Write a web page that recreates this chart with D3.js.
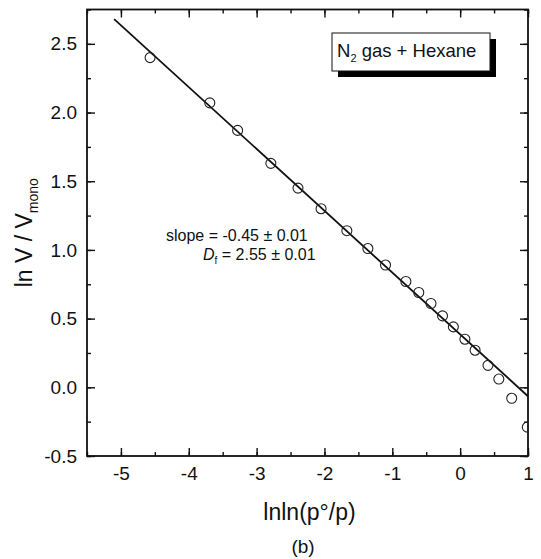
<!DOCTYPE html>
<html>
<head>
<meta charset="utf-8">
<script src="https://cdn.jsdelivr.net/npm/d3@7/dist/d3.min.js"></script>
<style>
  html, body { margin: 0; padding: 0; background: #fff; }
  svg { display: block; font-family: "Liberation Sans", Arial, sans-serif; }
</style>
</head>
<body>
<svg id="chart" width="541" height="559"></svg>
<script>
// Measured adsorption data: lnln(p°/p) vs ln(V/Vmono)
const lnlnP = [-4.57, -3.69, -3.28, -2.79, -2.39, -2.05, -1.67, -1.36, -1.10, -0.80,
               -0.61, -0.43, -0.26, -0.10, 0.07, 0.22, 0.41, 0.57, 0.76, 0.99];
const lnV   = [2.40, 2.07, 1.87, 1.63, 1.45, 1.30, 1.14, 1.01, 0.89, 0.77,
               0.69, 0.61, 0.52, 0.44, 0.35, 0.27, 0.16, 0.06, -0.08, -0.29];

// Linear fit
const fitSlope = -0.45;
const fitIntercept = 0.385;
const fitRange = [-5.1, 1.0];

const xTicks = [-5, -4, -3, -2, -1, 0, 1];
const yTicks = [-0.5, 0.0, 0.5, 1.0, 1.5, 2.0, 2.5];

const svg = d3.select("#chart");
const pL = 87, pR = 528, pT = 9.5, pB = 456;

const x = d3.scaleLinear().domain([-5.5, 1]).range([pL, pR]);
const y = d3.scaleLinear().domain([-0.5, 2.75]).range([pB, pT]);

const xMinor = d3.range(-5.5, 1.01, 0.5);
const yMinor = d3.range(-0.5, 2.751, 0.25);

// plain hyphen-minus for negative tick labels
const fmtX = d => String(d);
const fmtY = d => d.toFixed(1);

function styleAxis(g) {
  g.select(".domain").remove();
  g.selectAll(".tick line").attr("stroke", "#111").attr("stroke-width", 1.4);
  g.selectAll(".tick text").attr("fill", "#111").attr("font-size", 19)
    .attr("font-family", "'Liberation Sans', Arial, sans-serif");
}

// minor ticks (all four sides)
svg.append("g").attr("transform", `translate(0,${pB})`)
  .call(d3.axisBottom(x).tickValues(xMinor).tickSize(-4).tickFormat("")).call(styleAxis);
svg.append("g").attr("transform", `translate(0,${pT})`)
  .call(d3.axisTop(x).tickValues(xMinor).tickSize(-4).tickFormat("")).call(styleAxis);
svg.append("g").attr("transform", `translate(${pL},0)`)
  .call(d3.axisLeft(y).tickValues(yMinor).tickSize(-4).tickFormat("")).call(styleAxis);
svg.append("g").attr("transform", `translate(${pR},0)`)
  .call(d3.axisRight(y).tickValues(yMinor).tickSize(-4).tickFormat("")).call(styleAxis);

// major ticks with labels
svg.append("g").attr("transform", `translate(0,${pB})`)
  .call(d3.axisBottom(x).tickValues(xTicks).tickSize(-8).tickPadding(10.5)
        .tickFormat(fmtX)).call(styleAxis);
svg.append("g").attr("transform", `translate(0,${pT})`)
  .call(d3.axisTop(x).tickValues(xTicks).tickSize(-8).tickFormat("")).call(styleAxis);
svg.append("g").attr("transform", `translate(${pL},0)`)
  .call(d3.axisLeft(y).tickValues(yTicks).tickSize(-8).tickPadding(10)
        .tickFormat(fmtY)).call(styleAxis);
svg.append("g").attr("transform", `translate(${pR},0)`)
  .call(d3.axisRight(y).tickValues(yTicks).tickSize(-8).tickFormat("")).call(styleAxis);

// frame
svg.append("rect")
  .attr("x", pL).attr("y", pT)
  .attr("width", pR - pL).attr("height", pB - pT)
  .attr("fill", "none").attr("stroke", "#111").attr("stroke-width", 1.8);

// clip region for data
svg.append("clipPath").attr("id", "plotClip")
  .append("rect").attr("x", pL).attr("y", pT)
  .attr("width", pR - pL).attr("height", pB - pT);

const plot = svg.append("g").attr("clip-path", "url(#plotClip)");

// fitted line
const line = d3.line().x(d => x(d)).y(d => y(fitIntercept + fitSlope * d));
plot.append("path")
  .attr("d", line(fitRange))
  .attr("fill", "none").attr("stroke", "#111").attr("stroke-width", 1.8);

// data points
plot.selectAll("circle.pt")
  .data(lnlnP.map((v, i) => [v, lnV[i]]))
  .join("circle")
  .attr("class", "pt")
  .attr("cx", d => x(d[0])).attr("cy", d => y(d[1]))
  .attr("r", 5)
  .attr("fill", "none").attr("stroke", "#222").attr("stroke-width", 1.1);

// legend box with shadow
const lg = svg.append("g");
lg.append("rect").attr("x", 338).attr("y", 39).attr("width", 158).attr("height", 38).attr("fill", "#000");
lg.append("rect").attr("x", 332).attr("y", 33).attr("width", 158).attr("height", 38)
  .attr("fill", "#fff").attr("stroke", "#111").attr("stroke-width", 1);
const lt = lg.append("text").attr("x", 337).attr("y", 57).attr("font-size", 18.5).attr("fill", "#111");
lt.append("tspan").text("N");
lt.append("tspan").attr("font-size", 11).attr("dy", 5).text("2");
lt.append("tspan").attr("dy", -5).text(" gas + Hexane");

// fit annotation
svg.append("text").attr("x", 166).attr("y", 241).attr("font-size", 16).attr("fill", "#111")
  .text("slope = -0.45 ± 0.01");
const df = svg.append("text").attr("x", 203).attr("y", 260).attr("font-size", 16).attr("fill", "#111");
df.append("tspan").attr("font-style", "italic").text("D");
df.append("tspan").attr("font-size", 10).attr("dy", 4).text("f");
df.append("tspan").attr("dy", -4).text(" = 2.55 ± 0.01");

// axis titles
svg.append("text")
  .attr("x", (pL + pR) / 2 + 2).attr("y", 520)
  .attr("text-anchor", "middle").attr("font-size", 23).attr("fill", "#111")
  .text("lnln(p°/p)");
svg.append("text")
  .attr("x", 303).attr("y", 553)
  .attr("text-anchor", "middle").attr("font-size", 19).attr("fill", "#111")
  .text("(b)");

const yl = svg.append("text")
  .attr("transform", `translate(32,${(pT + pB) / 2}) rotate(-90)`)
  .attr("text-anchor", "middle").attr("font-size", 23).attr("fill", "#111");
yl.append("tspan").text("ln V / V");
yl.append("tspan").attr("font-size", 14).attr("dy", 6).text("mono");
</script>
</body>
</html>
